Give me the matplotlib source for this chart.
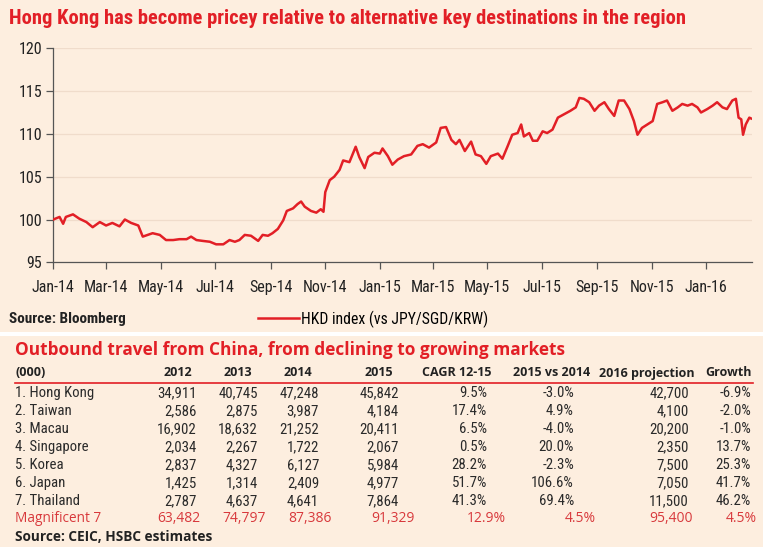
import datetime as dt
import matplotlib
matplotlib.use("Agg")
import matplotlib.pyplot as plt
import matplotlib.dates as mdates
from matplotlib import font_manager as fm
from matplotlib.patches import Rectangle

# ---- HKD index (vs JPY/SGD/KRW) ----
dates = ["2014-01-01", "2014-01-08", "2014-01-12", "2014-01-15", "2014-01-23", "2014-01-30",
         "2014-02-07", "2014-02-14", "2014-02-22", "2014-03-01", "2014-03-08", "2014-03-16",
         "2014-03-22", "2014-03-29", "2014-04-06", "2014-04-11", "2014-04-22", "2014-04-30",
         "2014-05-07", "2014-05-15", "2014-05-22", "2014-05-30", "2014-06-04", "2014-06-10",
         "2014-06-17", "2014-06-25", "2014-07-02", "2014-07-10", "2014-07-17", "2014-07-23",
         "2014-07-28", "2014-08-03", "2014-08-10", "2014-08-18", "2014-08-23", "2014-08-29",
         "2014-09-03", "2014-09-09", "2014-09-15", "2014-09-19", "2014-09-26", "2014-10-01",
         "2014-10-05", "2014-10-09", "2014-10-16", "2014-10-22", "2014-10-27", "2014-10-30",
         "2014-11-01", "2014-11-06", "2014-11-11", "2014-11-17", "2014-11-21", "2014-11-28",
         "2014-12-05", "2014-12-09", "2014-12-15", "2014-12-19", "2014-12-26",
         "2015-01-01", "2015-01-04", "2015-01-10", "2015-01-15", "2015-01-21", "2015-01-28",
         "2015-02-05", "2015-02-12", "2015-02-18", "2015-02-25", "2015-03-05", "2015-03-10",
         "2015-03-16", "2015-03-22", "2015-03-27", "2015-03-31", "2015-04-06", "2015-04-13",
         "2015-04-18", "2015-04-24", "2015-04-30", "2015-05-05", "2015-05-13", "2015-05-18",
         "2015-05-24", "2015-05-29", "2015-06-04", "2015-06-08", "2015-06-11", "2015-06-17",
         "2015-06-21", "2015-06-26", "2015-07-02", "2015-07-07", "2015-07-13", "2015-07-19",
         "2015-07-26", "2015-08-02", "2015-08-08", "2015-08-12", "2015-08-17", "2015-08-23",
         "2015-08-29", "2015-09-03", "2015-09-09", "2015-09-14", "2015-09-20", "2015-09-25",
         "2015-10-01", "2015-10-07", "2015-10-12", "2015-10-16", "2015-10-21", "2015-10-27",
         "2015-11-02", "2015-11-07", "2015-11-13", "2015-11-18", "2015-11-24", "2015-11-30",
         "2015-12-05", "2015-12-11", "2015-12-16", "2015-12-22", "2015-12-26",
         "2016-01-02", "2016-01-08", "2016-01-13", "2016-01-19", "2016-01-24", "2016-01-30",
         "2016-02-03", "2016-02-06", "2016-02-09", "2016-02-11", "2016-02-14", "2016-02-18",
         "2016-02-20"]
hkd_index = [100.0, 100.3, 99.5, 100.3, 100.6, 100.1,
             99.7, 99.1, 99.7, 99.3, 99.6, 99.2,
             100.0, 99.6, 99.3, 98.0, 98.4, 98.2,
             97.6, 97.6, 97.7, 97.7, 98.0, 97.6,
             97.5, 97.4, 97.1, 97.1, 97.6, 97.4,
             97.6, 98.2, 98.1, 97.5, 98.2, 98.1,
             98.4, 98.9, 99.9, 101.0, 101.3, 101.8,
             102.1, 101.5, 101.0, 100.8, 101.2, 100.9,
             103.2, 104.6, 105.0, 105.8, 106.9, 106.7,
             108.5, 107.3, 106.0, 107.3, 107.8,
             107.7, 108.3, 107.4, 106.4, 107.0, 107.4,
             107.6, 108.6, 108.8, 108.4, 109.0, 110.7,
             110.8, 109.3, 108.8, 109.3, 108.0, 109.1,
             107.6, 107.4, 106.5, 107.4, 107.7, 107.1,
             108.6, 109.9, 110.1, 111.1, 109.7, 110.1,
             109.2, 109.2, 110.3, 110.1, 110.5, 111.9,
             112.3, 112.7, 113.1, 114.2, 114.1, 113.7,
             112.7, 113.3, 113.7, 112.9, 112.1, 113.9,
             113.9, 112.9, 111.5, 109.9, 110.7, 111.1,
             111.5, 113.5, 113.7, 113.9, 112.7, 113.1,
             113.5, 113.3, 113.5, 113.1, 112.5,
             112.9, 113.3, 113.7, 113.1, 112.9, 113.9,
             114.1, 111.9, 111.7, 109.9, 111.1, 111.9,
             111.8]

# ---- Outbound travel table (000) ----
markets = ["1. Hong Kong", "2. Taiwan", "3. Macau", "4. Singapore", "5. Korea", "6. Japan", "7. Thailand"]
y2012 = [34911, 2586, 16902, 2034, 2837, 1425, 2787]
y2013 = [40745, 2875, 18632, 2267, 4327, 1314, 4637]
y2014 = [47248, 3987, 21252, 1722, 6127, 2409, 4641]
y2015 = [45842, 4184, 20411, 2067, 5984, 4977, 7864]
cagr_12_15 = [9.5, 17.4, 6.5, 0.5, 28.2, 51.7, 41.3]
vs_2014 = [-3.0, 4.9, -4.0, 20.0, -2.3, 106.6, 69.4]
proj_2016 = [42700, 4100, 20200, 2350, 7500, 7050, 11500]
growth = [-6.9, -2.0, -1.0, 13.7, 25.3, 41.7, 46.2]
total_label = "Magnificent 7"
total_row = [63482, 74797, 87386, 91329, 12.9, 4.5, 95400, 4.5]
headers = ["(000)", "2012", "2013", "2014", "2015", "CAGR 12-15", "2015 vs 2014", "2016 projection", "Growth"]

RED = "#e21f26"
PEACH = "#fdeedf"
W, H = 770, 547


def pick(names):
    have = {f.name for f in fm.fontManager.ttflist}
    for n in names:
        if n in have:
            return n
    return "DejaVu Sans"


NARROW = pick(["Liberation Sans Narrow", "Arial Narrow", "Roboto Condensed", "Liberation Sans"])
HUMAN = pick(["Open Sans", "Lato", "Noto Sans"])


def fx(px):
    return px / W


def fy(py):
    return 1 - py / H


fig = plt.figure(figsize=(7.7, 5.47), dpi=100, facecolor="white")
# two peach panels
fig.patches.append(Rectangle((0, fy(332)), fx(763), 332 / H, transform=fig.transFigure,
                             facecolor=PEACH, edgecolor="none", zorder=-10))
fig.patches.append(Rectangle((0, 0), fx(763), fy(336), transform=fig.transFigure,
                             facecolor=PEACH, edgecolor="none", zorder=-10))

fig.text(fx(9), fy(18), "Hong Kong has become pricey relative to alternative key destinations in the region",
         family=NARROW, fontsize=14.8, fontweight="bold", color=RED, ha="left", va="center")

ax = fig.add_axes([fx(53.3), fy(262.3), fx(752 - 53.3), (262.3 - 48.3) / H])
ax.set_facecolor(PEACH)
x = [dt.datetime.strptime(d, "%Y-%m-%d") for d in dates]
line, = ax.plot(x, hkd_index, color=RED, lw=1.8, label="HKD index (vs JPY/SGD/KRW)", zorder=3)
ax.set_ylim(95, 120)
ax.set_yticks([95, 100, 105, 110, 115, 120])
ax.set_xlim(dt.datetime(2014, 1, 1), dt.datetime(2016, 2, 21))
ax.xaxis.set_major_locator(mdates.MonthLocator(bymonth=[1, 3, 5, 7, 9, 11]))
ax.xaxis.set_major_formatter(mdates.DateFormatter("%b-%y"))
ax.grid(axis="y", color="#f0dccb", lw=0.9, zorder=0)
for sp in ["top", "right"]:
    ax.spines[sp].set_visible(False)
for sp in ["left", "bottom"]:
    ax.spines[sp].set_color("#555555")
    ax.spines[sp].set_linewidth(0.9)
ax.tick_params(axis="both", direction="out", length=5, width=0.9, color="#555555",
               labelsize=11.5, labelcolor="#222222")
ax.tick_params(axis="x", pad=7.5)
ax.tick_params(axis="y", pad=3)
for lab in ax.get_xticklabels() + ax.get_yticklabels():
    lab.set_family(NARROW)

fig.text(fx(9), fy(319), "Source: Bloomberg", family=NARROW, fontsize=11, fontweight="bold",
         color="#222222", ha="left", va="center")
fig.legend(handles=[line], loc="center left", bbox_to_anchor=(fx(258), fy(319)), frameon=False,
           handlelength=2.6, handletextpad=0.15, borderaxespad=0, borderpad=0,
           prop={"family": NARROW, "size": 11.3})

# ---- table ----
fig.text(fx(15), fy(350), "Outbound travel from China, from declining to growing markets",
         family=HUMAN, fontsize=12.4, fontweight="bold", color=RED, ha="left", va="center")

head_right = [192, 252, 312, 393, 492, 590, 695, 752]
val_right = [197, 258, 319, 399, 487, 574, 689, 751]
tot_right = [200, 266, 332, 415, 506, 596, 693, 757]
fig.text(fx(15), fy(373), headers[0], family=HUMAN, fontsize=9, fontweight="bold",
         color="#222222", ha="left", va="center")
for h, xr in zip(headers[1:], head_right):
    fig.text(fx(xr), fy(373), h, family=HUMAN, fontsize=9, fontweight="bold",
             color="#222222", ha="right", va="center")
fig.add_artist(plt.Line2D([fx(15), fx(753)], [fy(383), fy(383)], transform=fig.transFigure,
                          color=RED, lw=1.2))

row_y = [393, 411, 429, 447, 465, 483, 501]
for i, name in enumerate(markets):
    cells = [f"{y2012[i]:,}", f"{y2013[i]:,}", f"{y2014[i]:,}", f"{y2015[i]:,}",
             f"{cagr_12_15[i]:.1f}%", f"{vs_2014[i]:.1f}%", f"{proj_2016[i]:,}", f"{growth[i]:.1f}%"]
    fig.text(fx(15), fy(row_y[i]), name, family=NARROW, fontsize=10.6, color="#2a2a2a",
             ha="left", va="center")
    for c, xr in zip(cells, val_right):
        fig.text(fx(xr), fy(row_y[i]), c, family=NARROW, fontsize=10.7, color="#2a2a2a",
                 ha="right", va="center")

tot_cells = [f"{v:,}" for v in total_row[:4]] + [f"{total_row[4]:.1f}%", f"{total_row[5]:.1f}%",
                                                 f"{total_row[6]:,}", f"{total_row[7]:.1f}%"]
fig.text(fx(15), fy(518), total_label, family=HUMAN, fontsize=9.8, color="#d8393c",
         ha="left", va="center")
for c, xr in zip(tot_cells, tot_right):
    fig.text(fx(xr), fy(518), c, family=HUMAN, fontsize=10, color="#d8393c",
             ha="right", va="center")

fig.text(fx(15), fy(537), "Source: CEIC, HSBC estimates", family=HUMAN, fontsize=9.8,
         fontweight="bold", color="#222222", ha="left", va="center")

fig.savefig("out.png", dpi=100, facecolor="white")
